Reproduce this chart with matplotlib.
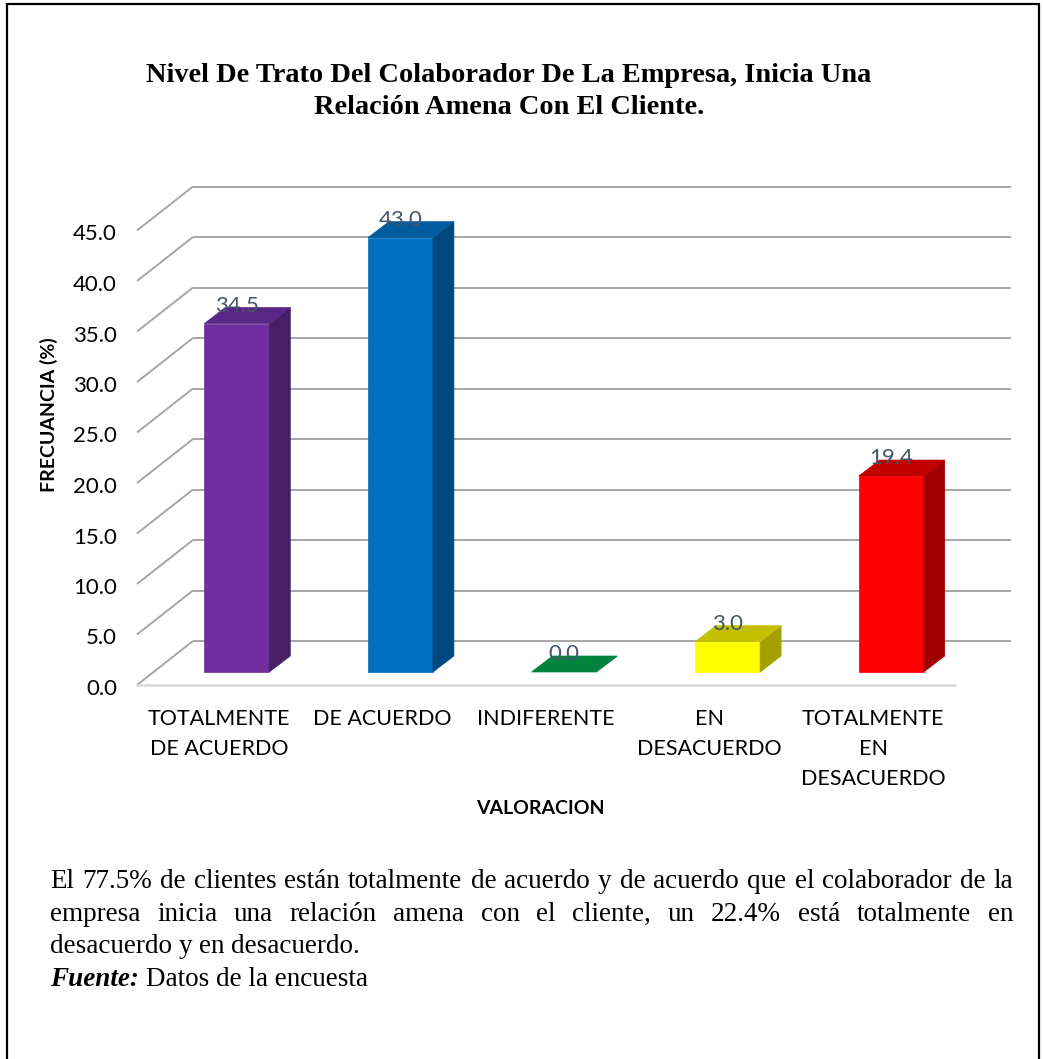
import matplotlib
matplotlib.use("Agg")
import matplotlib.pyplot as plt
from matplotlib.patches import Rectangle, Polygon

# ---------------- data ----------------
categories = ["TOTALMENTE\nDE ACUERDO", "DE ACUERDO", "INDIFERENTE",
              "EN\nDESACUERDO", "TOTALMENTE\nEN\nDESACUERDO"]
values = [34.5, 43.0, 0.0, 3.0, 19.4]
value_labels = ["34.5", "43.0", "0.0", "3.0", "19.4"]
y_ticks = [0, 5, 10, 15, 20, 25, 30, 35, 40, 45]
y_tick_labels = ["0.0", "5.0", "10.0", "15.0", "20.0", "25.0", "30.0", "35.0", "40.0", "45.0"]
title_lines = ["Nivel De Trato Del Colaborador De La Empresa, Inicia Una",
               "Relación Amena Con El Cliente."]
x_label = "VALORACION"
y_label = "FRECUANCIA (%)"
para_lines = ["El 77.5% de clientes están totalmente de acuerdo y de acuerdo que el colaborador de la",
              "empresa inicia una relación amena con el cliente, un 22.4% está totalmente en",
              "desacuerdo y en desacuerdo."]
source_bold = "Fuente:"
source_text = "Datos de la encuesta"

# ---------------- styles ----------------
front_colors = ["#7030A0", "#0070C0", "#00B050", "#FFFF00", "#FF0000"]
top_colors = ["#5A2786", "#005C9E", "#00843D", "#C4C000", "#C30000"]
side_colors = ["#481E67", "#00487D", "#006A30", "#A3A000", "#A00000"]
grid_color = "#A6A6A6"
floor_color = "#D9D9D9"
label_color = "#44546A"

W, H = 1043, 1059
fig = plt.figure(figsize=(W / 100, H / 100), dpi=100)
fig.patch.set_facecolor("white")

# pixel geometry of the plot (front floor)
PX_X = 163.6   # px per category
PX_Y = 10.1    # px per value unit
X0 = 137       # px of x=-0.5 (front floor left)
Y0 = 685       # px of value 0 (front floor)

ax = fig.add_axes([0, 0, 1, 1])
ax.set_xlim(-0.5 - X0 / PX_X, -0.5 + (W - X0) / PX_X)
ax.set_ylim((Y0 - H) / PX_Y, Y0 / PX_Y)
ax.axis("off")

WALL_DX, WALL_DY = 56 / PX_X, 44 / PX_Y
BX, BY = 18 / PX_X, 13 / PX_Y
BW = 65 / PX_X
DDX, DDY = 21 / PX_X, 16 / PX_Y
n = len(categories)
xl_wall, xr_wall = -0.5, n - 0.5

sans = ["Lato", "DejaVu Sans"]
serif = ["Liberation Serif", "DejaVu Serif"]

# gridlines (left wall diagonal + back wall horizontal)
for v, lab in zip(y_ticks, y_tick_labels):
    ax.plot([xl_wall, xl_wall + WALL_DX], [v, v + WALL_DY], color=grid_color, lw=1.4,
            zorder=1, solid_capstyle="butt")
    ax.plot([xl_wall + WALL_DX, xr_wall + WALL_DX], [v + WALL_DY, v + WALL_DY],
            color=grid_color, lw=1.4, zorder=1, solid_capstyle="butt")
    ax.text(xl_wall - 20 / PX_X, v - 4 / PX_Y, lab, ha="right", va="center", fontsize=16,
            family=sans, color="black")
# floor front edge
ax.plot([xl_wall, xr_wall], [0, 0], color=floor_color, lw=1.8, zorder=1)

# bars
for i, v in enumerate(values):
    xl = i + BX - BW / 2
    xr = xl + BW
    yb = BY
    yt = BY + v
    if v > 0:
        ax.add_patch(Rectangle((xl, yb), BW, v, facecolor=front_colors[i],
                               edgecolor=front_colors[i], lw=0.5, zorder=3))
        ax.add_patch(Polygon([(xr, yb), (xr + DDX, yb + DDY), (xr + DDX, yt + DDY), (xr, yt)],
                             closed=True, facecolor=side_colors[i],
                             edgecolor=side_colors[i], lw=0.5, zorder=3))
    ax.add_patch(Polygon([(xl, yt), (xr, yt), (xr + DDX, yt + DDY), (xl + DDX, yt + DDY)],
                         closed=True, facecolor=top_colors[i],
                         edgecolor=top_colors[i], lw=0.5, zorder=3))
    ax.text(i + BX, yt + 12 / PX_Y, value_labels[i], ha="center", va="baseline",
            fontsize=16, family=sans, color=label_color, zorder=5)

# category labels
for i, c in enumerate(categories):
    ax.text(i, (Y0 - 709) / PX_Y, c, ha="center", va="top", fontsize=15.5,
            family=sans, color="black", linespacing=1.62)

# axis titles
ax.text(-0.5 + (540 - X0) / PX_X, (Y0 - 808) / PX_Y, x_label, ha="center",
        va="center", fontsize=14, fontweight="bold", family=sans)
ax.text(-0.5 - (X0 - 49) / PX_X, (Y0 - 415) / PX_Y, y_label, ha="center", va="center",
        rotation=90, fontsize=14, fontweight="bold", family=sans)

# chart title
for k, line in enumerate(title_lines):
    fig.text(509 / W, 1 - (75 + 32 * k) / H, line, ha="center", va="center",
             fontsize=20.4, fontweight="bold", family=serif)

# outer border (bottom edge runs off the page)
fig.add_artist(Rectangle((7 / W, -0.02), (1039 - 7) / W, 1.02 - 4 / H,
                         transform=fig.transFigure, fill=False, edgecolor="black",
                         lw=1.6, clip_on=False))

# paragraph with justification
renderer = fig.canvas.get_renderer()
PFS = 19.5
LEFT, RIGHT = 50, 1013
BASE0, LSP = 888, 32.7


def measure(t):
    return t.get_window_extent(renderer).width


probe1 = fig.text(0, 0, "a a", fontsize=PFS, family=serif)
probe2 = fig.text(0, 0, "aa", fontsize=PFS, family=serif)
space_w = measure(probe1) - measure(probe2)
probe1.remove()
probe2.remove()

for k, line in enumerate(para_lines):
    words = line.split(" ")
    ypx = BASE0 + LSP * k
    texts = [fig.text(0, 1 - ypx / H, w, fontsize=PFS, family=serif, va="baseline")
             for w in words]
    widths = [measure(t) for t in texts]
    if k < len(para_lines) - 1:
        gap = (RIGHT - LEFT - sum(widths)) / (len(words) - 1)
        gap = max(gap, 0.35 * space_w)
    else:
        gap = space_w
    x = LEFT
    for t, wd in zip(texts, widths):
        t.set_x(x / W)
        x += wd + gap

ypx = BASE0 + LSP * len(para_lines)
tb = fig.text(LEFT / W, 1 - ypx / H, source_bold, fontsize=PFS, family=serif,
              fontweight="bold", fontstyle="italic", va="baseline")
wb = measure(tb)
fig.text((LEFT + wb + space_w) / W, 1 - ypx / H, source_text, fontsize=PFS,
         family=serif, va="baseline")

fig.savefig("out.png", dpi=100, facecolor="white")
